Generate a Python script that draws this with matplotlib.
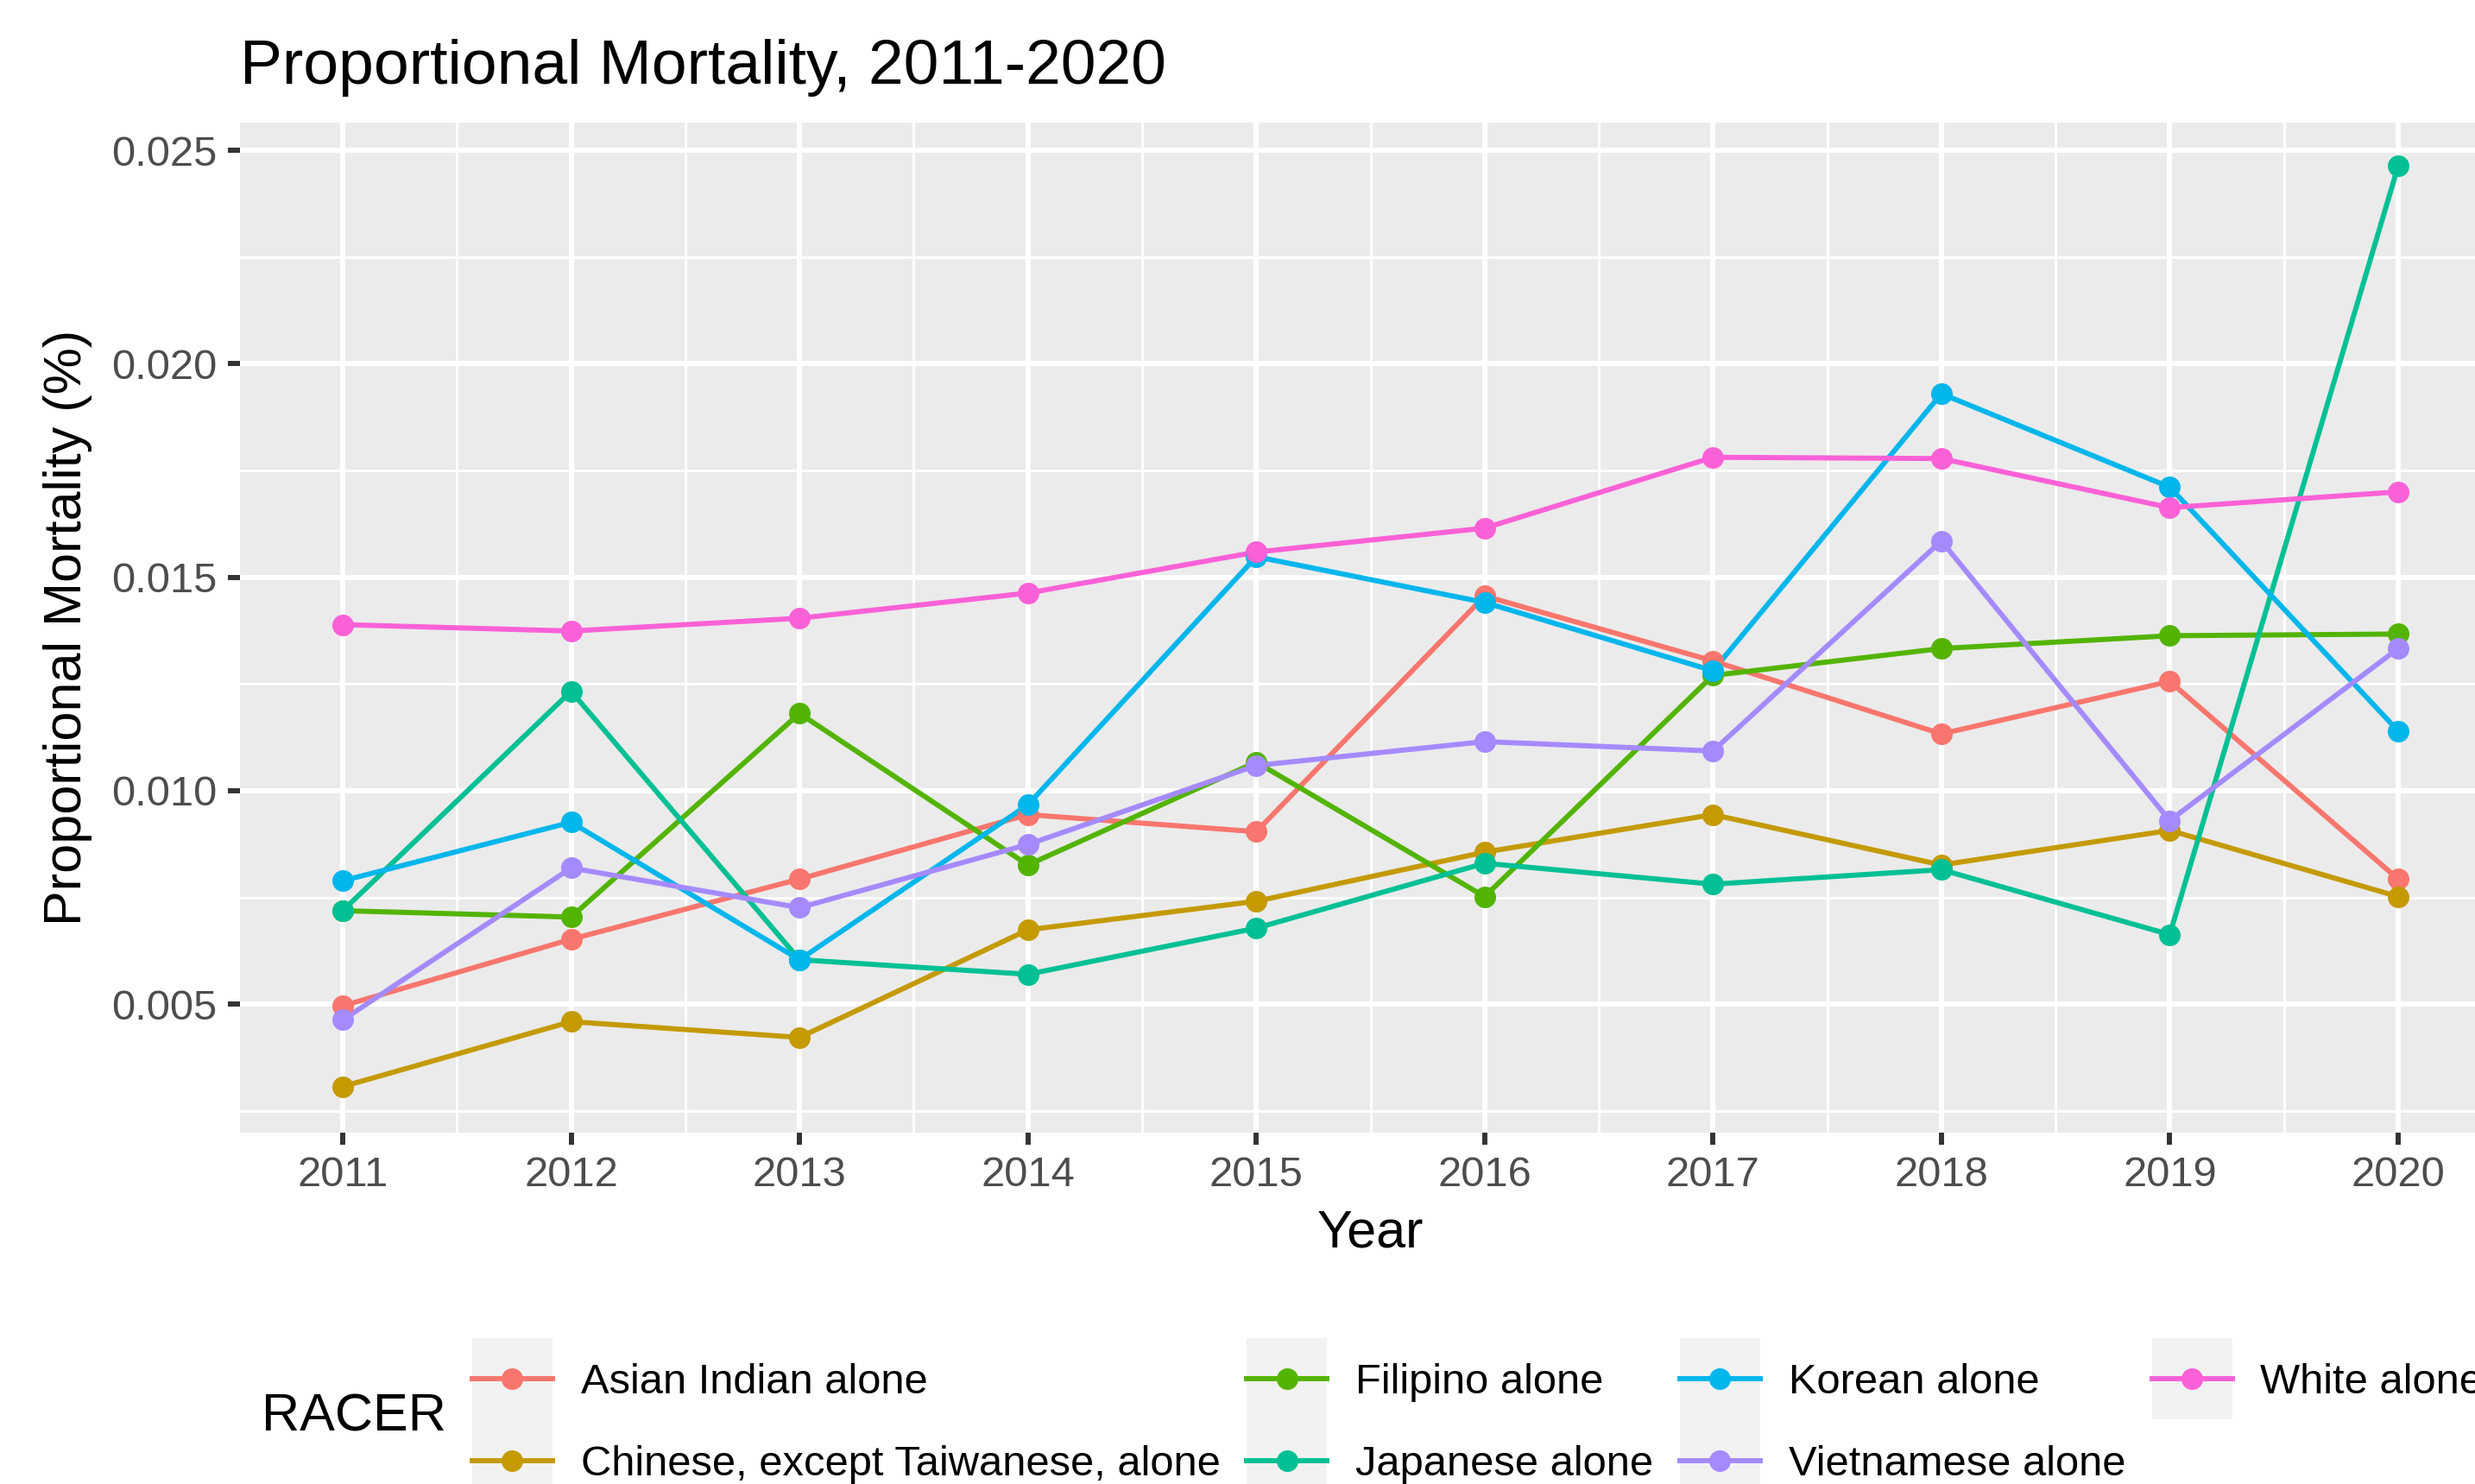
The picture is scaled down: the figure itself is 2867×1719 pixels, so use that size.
import matplotlib
matplotlib.use("Agg")
import matplotlib.pyplot as plt
from matplotlib.lines import Line2D
from matplotlib.patches import Rectangle
from matplotlib.legend_handler import HandlerBase

plt.rcParams['font.family'] = ['Liberation Sans', 'DejaVu Sans']

# data
years = [2011, 2012, 2013, 2014, 2015, 2016, 2017, 2018, 2019, 2020]
groups = ['Asian Indian alone', 'Chinese, except Taiwanese, alone', 'Filipino alone',
          'Japanese alone', 'Korean alone', 'Vietnamese alone', 'White alone']
colors = ['#F8766D', '#C49A00', '#53B400', '#00C094', '#00B6EB', '#A58AFF', '#FB61D7']

asian_indian = [0.00496, 0.00652, 0.00793, 0.00944, 0.00904, 0.01456, 0.01304, 0.01133, 0.01256, 0.00793]
chinese = [0.00307, 0.00459, 0.00422, 0.00674, 0.00741, 0.00856, 0.00944, 0.00826, 0.00907, 0.00752]
filipino = [0.00719, 0.00704, 0.01181, 0.00826, 0.01067, 0.00752, 0.01270, 0.01333, 0.01363, 0.01367]
japanese = [0.00719, 0.01233, 0.00604, 0.00570, 0.00678, 0.00830, 0.00781, 0.00815, 0.00663, 0.02463]
korean = [0.00789, 0.00926, 0.00604, 0.00967, 0.01548, 0.01441, 0.01281, 0.01930, 0.01711, 0.01140]
vietnamese = [0.00463, 0.00819, 0.00726, 0.00874, 0.01059, 0.01115, 0.01093, 0.01585, 0.00930, 0.01333]
white = [0.01389, 0.01374, 0.01404, 0.01463, 0.01559, 0.01615, 0.01781, 0.01778, 0.01663, 0.01700]

series = [asian_indian, chinese, filipino, japanese, korean, vietnamese, white]


class KeyHandler(HandlerBase):
    # ggplot style key: grey box, line and point centred on the label text
    def create_artists(self, legend, orig_handle, xdescent, ydescent, width, height, fontsize, trans):
        cy = 0.35 * fontsize
        x0 = -xdescent
        c = orig_handle.get_color()
        bg = Rectangle((x0, cy - height / 2), width, height, facecolor='#F2F2F2',
                       edgecolor='none', transform=trans)
        ln = Line2D([x0, x0 + width], [cy, cy], color=c, linewidth=1.07, transform=trans)
        pt = Line2D([x0 + width / 2], [cy], color=c, linestyle='none', marker='o',
                    markersize=4.5, markeredgewidth=0, transform=trans)
        return [bg, ln, pt]


fig = plt.figure(figsize=(2867 / 400, 1719 / 400), dpi=400)
ax = fig.add_axes([278 / 2867, 1 - 1312 / 1719, 2619 / 2867, (1312 - 142) / 1719])
ax.set_facecolor('#EBEBEB')
for s in ax.spines.values():
    s.set_visible(False)

ax.set_xticks(years)
ax.set_xticks([y + 0.5 for y in years[:-1]], minor=True)
yt = [0.005, 0.010, 0.015, 0.020, 0.025]
ax.set_yticks(yt)
ax.set_yticklabels(['%.3f' % v for v in yt])
ax.set_yticks([0.0025, 0.0075, 0.0125, 0.0175, 0.0225], minor=True)
ax.grid(which='major', color='white', linewidth=1.07)
ax.grid(which='minor', color='white', linewidth=0.53)
ax.set_axisbelow(True)
ax.tick_params(which='major', length=2.6, width=1.07, color='#333333', pad=2.2,
               labelcolor='#4D4D4D', labelsize=8.8)
ax.tick_params(which='minor', length=0)

for vals, c in zip(series, colors):
    ax.plot(years, vals, color=c, linewidth=1.07, zorder=2)
for vals, c in zip(series, colors):
    ax.plot(years, vals, linestyle='none', marker='o', markersize=4.5,
            markeredgewidth=0, color=c, zorder=3)

ax.set_xlim(2010.55, 2020.45)
ax.set_ylim(0.00199, 0.02565)

ax.set_xlabel('Year', fontsize=11, labelpad=3)
ax.set_ylabel('Proportional Mortality (%)', fontsize=11, labelpad=4)

fig.text(278 / 2867, 1 - 97 / 1719, 'Proportional Mortality, 2011-2020', fontsize=13.2,
         ha='left', va='baseline')

handles = [Line2D([0], [0], color=c) for c in colors]
leg = fig.legend(handles, groups, loc='upper left', bbox_to_anchor=(547 / 2867, 1 - 1552 / 1719),
                 ncol=4, frameon=False, fontsize=8.8, numpoints=1,
                 handlelength=1.9, handleheight=2.6, labelspacing=0, handletextpad=0.67,
                 columnspacing=0.63, borderpad=0, borderaxespad=0,
                 handler_map={Line2D: KeyHandler()})
fig.text(303 / 2867, 1 - 1642 / 1719, 'RACER', fontsize=11, ha='left', va='center')

fig.savefig('out.png', dpi=400)
